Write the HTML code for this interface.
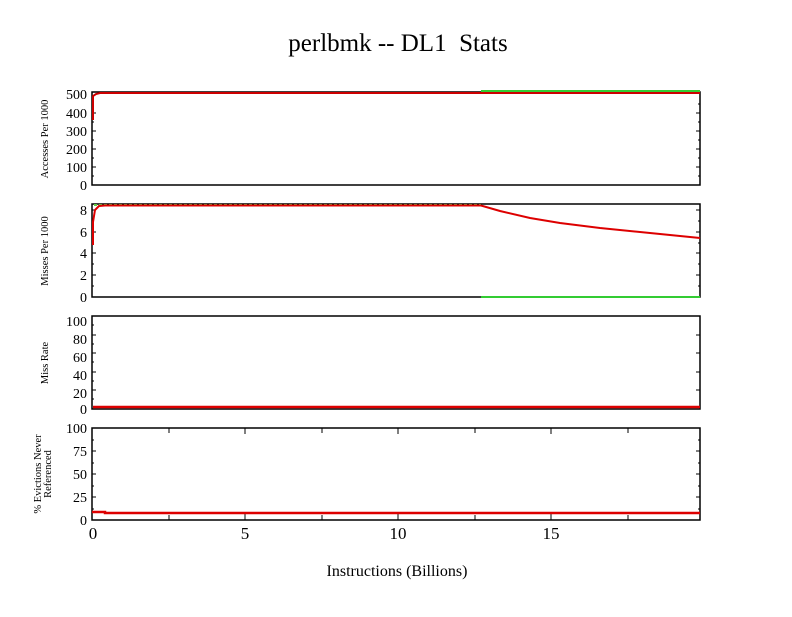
<!DOCTYPE html>
<html><head><meta charset="utf-8"><style>body{margin:0;background:#fff}</style></head><body>
<svg width="792" height="612" xmlns="http://www.w3.org/2000/svg" font-family="Liberation Serif, serif">
<rect width="792" height="612" fill="#fff"/>
<text x="398" y="51" font-size="25" text-anchor="middle">perlbmk -- DL1&#160; Stats</text>
<text x="397" y="576" font-size="16" text-anchor="middle">Instructions (Billions)</text>
<g font-size="14" text-anchor="end">
<text x="87" y="99">500</text><text x="87" y="118">400</text><text x="87" y="136">300</text><text x="87" y="154">200</text><text x="87" y="172">100</text><text x="87" y="190">0</text>
<text x="87" y="215">8</text><text x="87" y="237">6</text><text x="87" y="258">4</text><text x="87" y="280">2</text><text x="87" y="302">0</text>
<text x="87" y="326">100</text><text x="87" y="344">80</text><text x="87" y="362">60</text><text x="87" y="380">40</text><text x="87" y="398">20</text><text x="87" y="414">0</text>
<text x="87" y="433">100</text><text x="87" y="456">75</text><text x="87" y="479">50</text><text x="87" y="502">25</text><text x="87" y="525">0</text>
</g>
<g font-size="17" text-anchor="middle">
<text x="93" y="539">0</text><text x="245" y="539">5</text><text x="398" y="539">10</text><text x="551" y="539">15</text>
</g>
<g font-size="10.5" text-anchor="middle">
<text transform="translate(48,139) rotate(-90)">Accesses Per 1000</text>
<text transform="translate(48,251) rotate(-90)">Misses Per 1000</text>
<text transform="translate(48,363) rotate(-90)">Miss Rate</text>
<text transform="translate(41,474) rotate(-90)">% Evictions Never</text>
<text transform="translate(51,474) rotate(-90)">Referenced</text>
</g>
<g stroke="#000" stroke-width="1">
<path d="M92 185h4M92 167h4M92 149h4M92 131h4M92 113h4M700 167h-4M700 149h-4M700 131h-4M700 113h-4M92 176h2M92 158h2M92 140h2M92 122h2M92 104h2M700 176h-2M700 158h-2M700 140h-2M700 122h-2M700 104h-2"/>
<path d="M92 210h4M92 232h4M92 253h4M92 275h4M700 210h-4M700 232h-4M700 253h-4M700 275h-4M92 221h2M92 243h2M92 264h2M92 286h2M700 221h-2M700 243h-2M700 264h-2M700 286h-2"/>
<path d="M92 390h4M92 372h4M92 353h4M92 335h4M700 390h-4M700 372h-4M700 353h-4M700 335h-4M92 399h2M92 381h2M92 362h2M92 344h2M92 325h2"/>
<path d="M92 497h4M92 474h4M92 451h4M700 497h-4M700 474h-4M700 451h-4M92 509h2M92 486h2M92 463h2M92 440h2M700 509h-2M700 486h-2M700 463h-2M700 440h-2"/>
<path d="M169 428v5M245 428v6M322 428v5M398 428v6M475 428v5M551 428v6M628 428v5M169 520v-5M245 520v-6M322 520v-5M398 520v-6M475 520v-5M551 520v-6M628 520v-5"/>
</g>
<g fill="none" stroke="#000" stroke-width="1.5">
<rect x="92" y="92" width="608" height="93"/>
<rect x="92" y="204" width="608" height="93"/>
<rect x="92" y="316" width="608" height="93"/>
<rect x="92" y="428" width="608" height="92"/>
</g>
<g fill="none" stroke-width="2">
<path d="M481 91H700" stroke="#3c3"/>
<path d="M481 297H700" stroke="#3c3"/>
<path d="M94 205H481" stroke="#6c4" stroke-dasharray="3 2"/>
<path d="M93 120V96L96 94L100 93H700" stroke="#c00"/>
<path d="M93 245V222L95 210L99 206L105 205.5H481L500 211L530 218L560 223L600 228L650 233L700 238" stroke="#d00"/>
<path d="M93 407H700" stroke="#d00" stroke-width="2.5"/>
<path d="M92 512H105V513H700" stroke="#d00" stroke-width="2.5"/>
</g>
</svg>
</body></html>
